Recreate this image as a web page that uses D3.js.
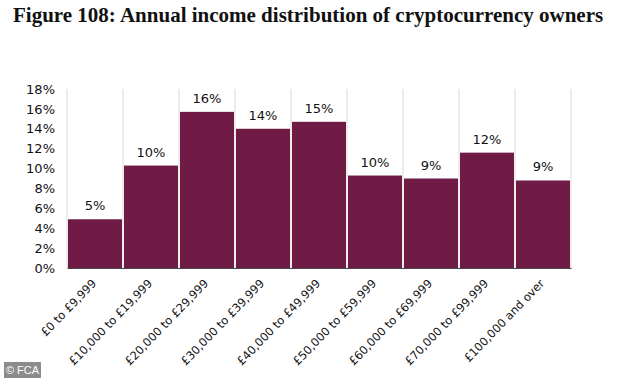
<!DOCTYPE html>
<html>
<head>
<meta charset="utf-8">
<script src="https://cdn.jsdelivr.net/npm/d3@7"></script>
<style>
  body { margin: 0; background: #fff; }
  svg { display: block; }
</style>
</head>
<body>
<svg id="chart" width="634" height="378"></svg>
<script>
// income bands and share of crypto owners (%)
const categories = ["£0 to £9,999", "£10,000 to £19,999", "£20,000 to £29,999", "£30,000 to £39,999",
  "£40,000 to £49,999", "£50,000 to £59,999", "£60,000 to £69,999", "£70,000 to £99,999", "£100,000 and over"];
const values = [4.9, 10.3, 15.7, 14.0, 14.7, 9.3, 9.0, 11.6, 8.8];
const valueLabels = ["5%", "10%", "16%", "14%", "15%", "10%", "9%", "12%", "9%"];
const yTicks = [0, 2, 4, 6, 8, 10, 12, 14, 16, 18];

const svg = d3.select("#chart");
const margin = { top: 89, left: 67, right: 63, bottom: 110 };
const width = 634, height = 378;

// title - fit to the reference width
const title = svg.append("text")
    .attr("x", 13)
    .attr("y", 22)
    .attr("font-family", "Liberation Serif, Times New Roman, serif")
    .attr("font-weight", "bold")
    .attr("font-size", 21)
    .attr("fill", "#111")
    .text("Figure 108: Annual income distribution of cryptocurrency owners");
const tw = title.node().getComputedTextLength();
if (tw > 596) title.attr("font-size", 21 * 596 / tw);

const x = d3.scaleBand()
    .domain(categories)
    .range([margin.left, width - margin.right])
    .padding(0);

const y = d3.scaleLinear()
    .domain([0, 18])
    .range([height - margin.bottom, margin.top]);

// vertical grid lines at band edges
const edges = categories.map(c => x(c)).concat([x.range()[1]]);
svg.append("g")
    .selectAll("line")
    .data(edges)
    .join("line")
    .attr("x1", d => d).attr("x2", d => d)
    .attr("y1", y(18)).attr("y2", y(0))
    .attr("stroke", "#d9d9d9")
    .attr("stroke-width", 1);

// bars
svg.append("g")
    .selectAll("rect")
    .data(values)
    .join("rect")
    .attr("x", (d, i) => x(categories[i]) + 1)
    .attr("width", x.bandwidth() - 2)
    .attr("y", d => y(d))
    .attr("height", d => y(0) - y(d))
    .attr("fill", "#6f1b46");

// value labels
svg.append("g")
    .selectAll("text")
    .data(values)
    .join("text")
    .attr("x", (d, i) => x(categories[i]) + x.bandwidth() / 2)
    .attr("y", d => y(d) - 9)
    .attr("text-anchor", "middle")
    .attr("font-family", "Verdana, DejaVu Sans, sans-serif")
    .attr("font-size", 13)
    .attr("fill", "#111")
    .text((d, i) => valueLabels[i]);

// y axis
const yAxis = d3.axisLeft(y)
    .tickValues(yTicks)
    .tickFormat(d => d + "%")
    .tickSize(0)
    .tickPadding(12);
svg.append("g")
    .attr("transform", `translate(${margin.left},0)`)
    .call(yAxis)
    .call(g => g.select(".domain").remove())
    .selectAll("text")
    .attr("font-family", "Verdana, DejaVu Sans, sans-serif")
    .attr("font-size", 13)
    .attr("fill", "#111");

// x axis
const xAxis = d3.axisBottom(x).tickSize(0).tickPadding(0);
const gx = svg.append("g")
    .attr("transform", `translate(0,${y(0)})`)
    .call(xAxis);
gx.select(".domain").attr("stroke", "#444").attr("stroke-width", 1.2);
gx.selectAll("text")
    .attr("font-family", "DejaVu Sans, Verdana, sans-serif")
    .attr("font-size", 11.5)
    .attr("fill", "#111")
    .attr("text-anchor", "end")
    .attr("dy", 0)
    .attr("transform", "translate(2,16) rotate(-46)");

// source badge
const badge = svg.append("g").attr("transform", "translate(4,362)");
badge.append("rect").attr("width", 37).attr("height", 16).attr("fill", "#8c8c8c");
badge.append("text")
    .attr("x", 18.5).attr("y", 12)
    .attr("text-anchor", "middle")
    .attr("font-family", "Liberation Sans, Arial, sans-serif")
    .attr("font-size", 11)
    .attr("fill", "#fff")
    .text("© FCA");
</script>
</body>
</html>
